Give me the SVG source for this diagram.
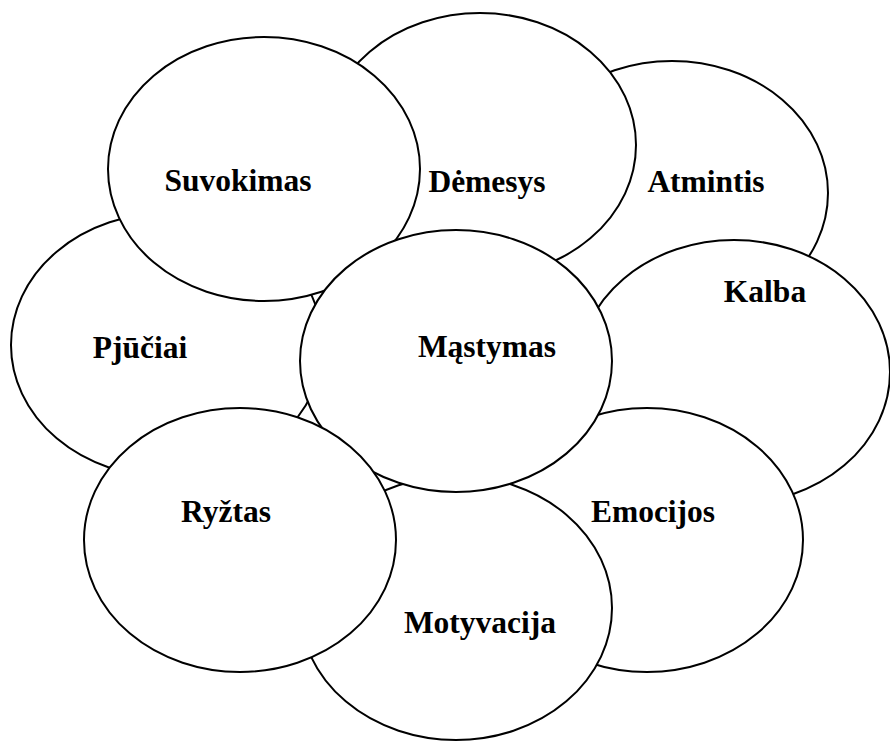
<svg xmlns="http://www.w3.org/2000/svg" width="890" height="742" viewBox="0 0 890 742">
<style>
.n ellipse{fill:#fff;stroke:#000;stroke-width:2}
.n text{font-family:'Liberation Serif','Times New Roman','DejaVu Serif',serif;font-weight:700;font-size:31.5px;fill:#000;text-anchor:middle}
</style>
<rect width="890" height="742" fill="#fff"/>
<g id="atmintis" class="n"><ellipse cx="672" cy="193" rx="156" ry="132"/><text x="706" y="192">Atmintis</text></g>
<g id="demesys" class="n"><ellipse cx="480" cy="145" rx="156" ry="132"/><text x="487" y="192">Dėmesys</text></g>
<g id="kalba" class="n"><ellipse cx="734" cy="372" rx="156" ry="132"/><text x="765" y="302">Kalba</text></g>
<g id="emocijos" class="n"><ellipse cx="647" cy="540" rx="156" ry="132"/><text x="653" y="522">Emocijos</text></g>
<g id="motyvacija" class="n"><ellipse cx="456" cy="608" rx="156" ry="132"/><text x="480" y="633">Motyvacija</text></g>
<g id="pjuciai" class="n"><ellipse cx="167" cy="345" rx="156" ry="132"/><text x="140" y="358">Pjūčiai</text></g>
<g id="suvokimas" class="n"><ellipse cx="264" cy="169" rx="156" ry="132"/><text x="238" y="191">Suvokimas</text></g>
<g id="mastymas" class="n"><ellipse cx="456" cy="361" rx="156" ry="131"/><text x="487" y="357">Mąstymas</text></g>
<g id="ryztas" class="n"><ellipse cx="240" cy="540" rx="156" ry="132"/><text x="226" y="522">Ryžtas</text></g>
<g id="connectors"></g>
</svg>
